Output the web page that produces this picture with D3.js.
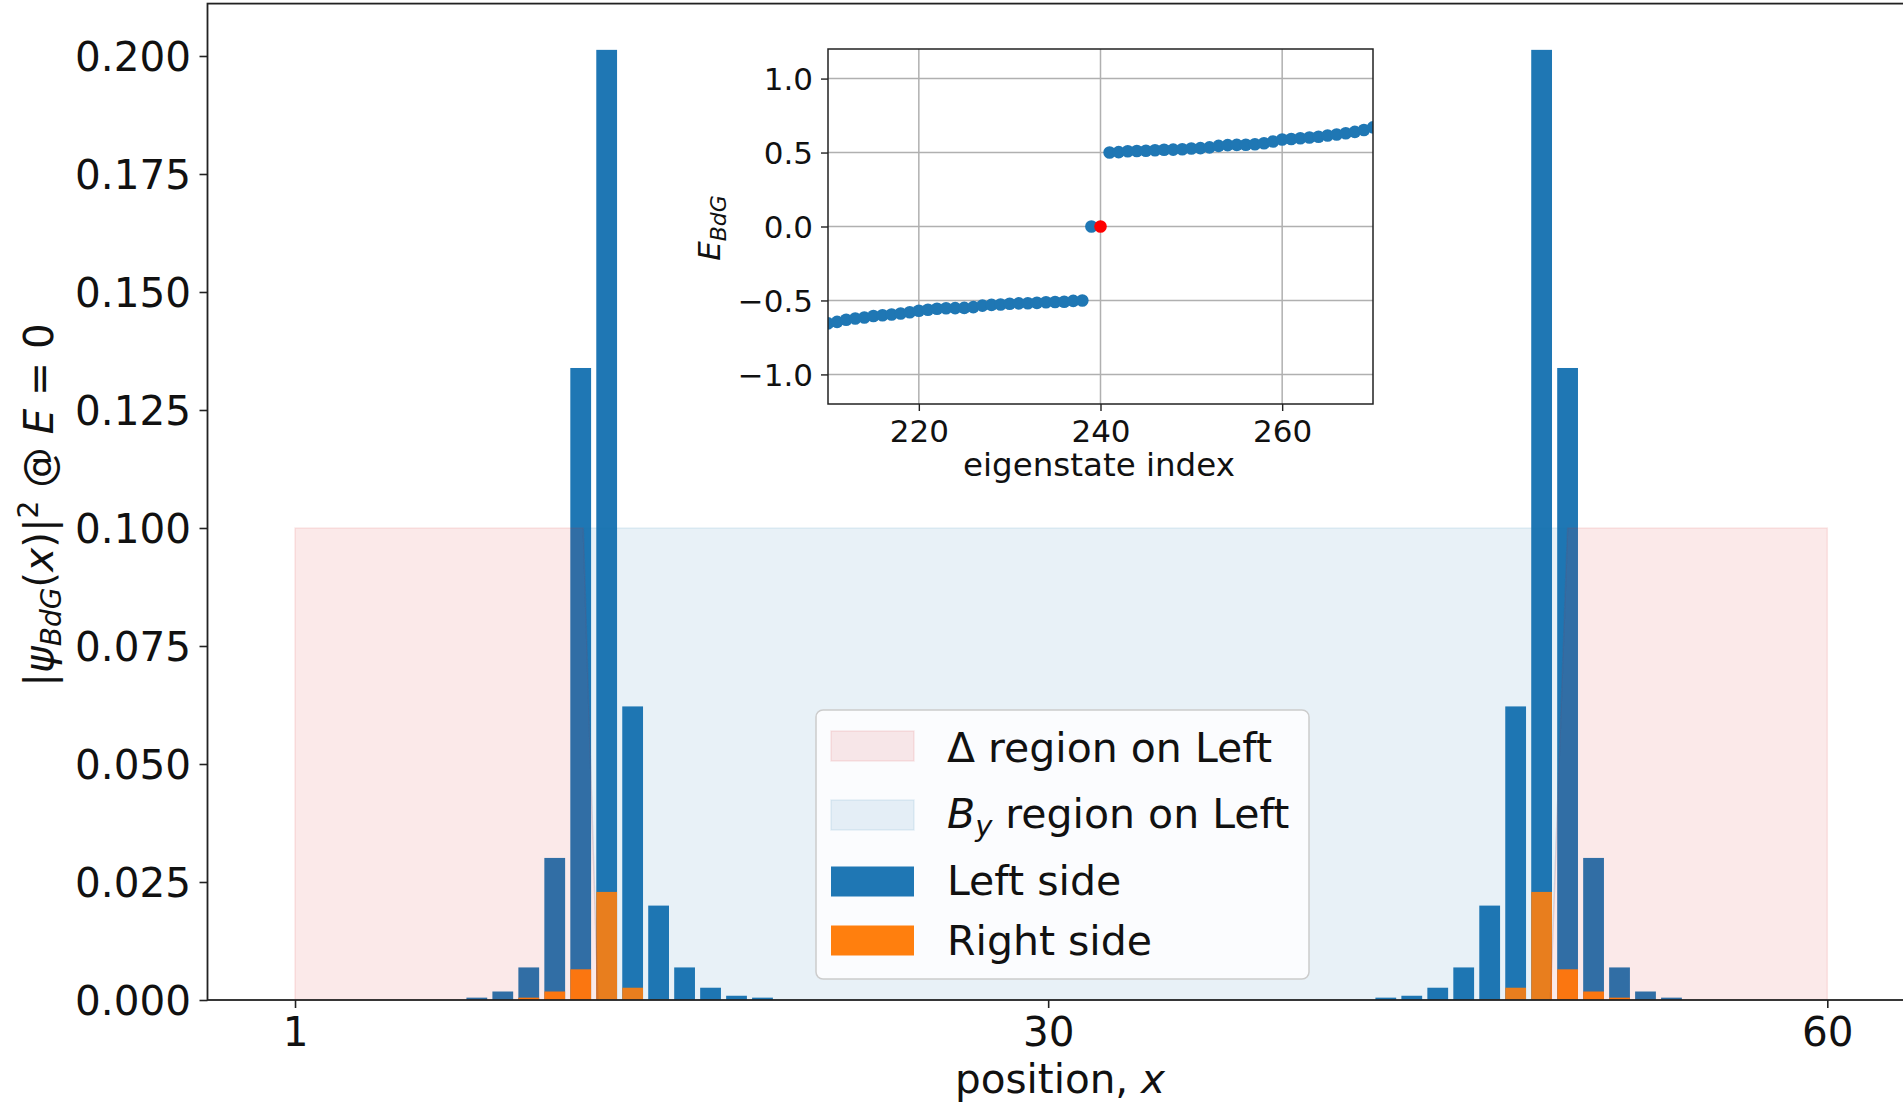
<!DOCTYPE html>
<html>
<head>
<meta charset="utf-8">
<script src="https://cdn.jsdelivr.net/npm/d3@7"></script>
<style>
  body { margin: 0; background: #fff; }
  svg { display: block; font-family: "DejaVu Sans", sans-serif; }
</style>
</head>
<body>
<script>
// main chart data: |psi|^2 of the E=0 BdG state on each site
var sites     = [8, 9, 10, 11, 12, 13, 14, 15, 16, 17, 18, 19,
                 43, 44, 45, 46, 47, 48, 49, 50, 51, 52, 53, 54];
var leftSide  = [0.0005, 0.0018, 0.0069, 0.0301, 0.1339, 0.2013, 0.0622, 0.0200, 0.0069, 0.0026, 0.0009, 0.0005,
                 0.0005, 0.0009, 0.0026, 0.0069, 0.0200, 0.0622, 0.2013, 0.1339, 0.0301, 0.0069, 0.0018, 0.0005];
var rightSide = [0, 0, 0.0005, 0.0018, 0.0065, 0.0229, 0.0026, 0.0001, 0, 0, 0, 0,
                 0, 0, 0, 0, 0.0001, 0.0026, 0.0229, 0.0065, 0.0018, 0.0005, 0, 0];

// shaded regions (x, height) outlines
var deltaRegions = [
  [[1, 0], [1, 0.1], [12.1, 0.1], [12.66, 0]],
  [[49.34, 0], [50.0, 0.1], [60, 0.1], [60, 0]]
];
var byRegion = [[12.66, 0], [12.1, 0.1], [50.0, 0.1], [49.34, 0]];

var yTicks = [0, 0.025, 0.05, 0.075, 0.1, 0.125, 0.15, 0.175, 0.2];
var xTicks = [1, 30, 60];

// inset data: BdG eigenvalues around the gap
var lowIndex  = d3.range(210, 239);
var lowE      = [-0.655, -0.645, -0.630, -0.622, -0.615, -0.605, -0.600, -0.595, -0.588, -0.580,
                 -0.570, -0.563, -0.556, -0.553, -0.552, -0.550, -0.545, -0.535, -0.530, -0.527,
                 -0.522, -0.520, -0.519, -0.516, -0.512, -0.510, -0.509, -0.503, -0.500];
var highIndex = d3.range(241, 271);
var highE     = [0.500, 0.503, 0.509, 0.510, 0.512, 0.516, 0.519, 0.520, 0.522, 0.527,
                 0.530, 0.535, 0.545, 0.550, 0.552, 0.553, 0.556, 0.563, 0.575, 0.588,
                 0.592, 0.597, 0.602, 0.607, 0.615, 0.622, 0.630, 0.640, 0.652, 0.670];
var zeroIndex = [239, 240];
var zeroE     = [0, 0];
var insetXTicks = [220, 240, 260];
var insetYTicks = [-1, -0.5, 0, 0.5, 1];

var W = 1903, H = 1102;
var blue = "#1f77b4", orange = "#ff7f0e", red = "#d62728";

var svg = d3.select("body").append("svg")
    .attr("width", W)
    .attr("height", H);

// main axes box
var ax = {left: 207.5, right: 1913, top: 3.6, bottom: 1000};

var x = d3.scaleLinear().domain([-2.37, 63.3]).range([ax.left, ax.right]);
var y = d3.scaleLinear().domain([0, 0.2111]).range([ax.bottom, ax.top]);

var barW = x(0.8) - x(0);

var bars = sites.map(function (s, i) {
  return {x: s, left: leftSide[i], right: rightSide[i]};
});

svg.selectAll("rect.left").data(bars).enter().append("rect")
    .attr("class", "left")
    .attr("x", function (d) { return x(d.x) - barW / 2; })
    .attr("y", function (d) { return y(d.left); })
    .attr("width", barW)
    .attr("height", function (d) { return y(0) - y(d.left); })
    .style("fill", blue);

svg.selectAll("rect.right").data(bars).enter().append("rect")
    .attr("class", "right")
    .attr("x", function (d) { return x(d.x) - barW / 2; })
    .attr("y", function (d) { return y(d.right); })
    .attr("width", barW)
    .attr("height", function (d) { return y(0) - y(d.right); })
    .style("fill", orange);

var poly = d3.line().x(function (p) { return x(p[0]); }).y(function (p) { return y(p[1]); });

svg.selectAll("path.delta").data(deltaRegions).enter().append("path")
    .attr("class", "delta")
    .attr("d", function (d) { return poly(d) + "Z"; })
    .style("fill", red).style("fill-opacity", 0.1)
    .style("stroke", red).style("stroke-opacity", 0.1).style("stroke-width", 1.5);

svg.append("path")
    .attr("d", poly(byRegion) + "Z")
    .style("fill", blue).style("fill-opacity", 0.1)
    .style("stroke", blue).style("stroke-opacity", 0.1).style("stroke-width", 1.5);

// axes
var yAxis = svg.append("g")
    .attr("transform", "translate(" + ax.left + ",0)")
    .call(d3.axisLeft(y).tickValues(yTicks).tickFormat(d3.format(".3f")).tickSize(8).tickPadding(8.5));
yAxis.selectAll("text").style("font-size", "40.5px").attr("dy", "0.36em");

var xAxis = svg.append("g")
    .attr("transform", "translate(0," + ax.bottom + ")")
    .call(d3.axisBottom(x).tickValues(xTicks).tickSize(8).tickPadding(9));
xAxis.selectAll("text").style("font-size", "40.5px");

svg.selectAll(".domain").remove();
svg.selectAll(".tick line").style("stroke", "#222").style("stroke-width", 1.6);
svg.selectAll(".tick text").style("fill", "#111").style("font-family", "DejaVu Sans");

svg.append("rect")
    .attr("x", ax.left).attr("y", ax.top)
    .attr("width", ax.right - ax.left).attr("height", ax.bottom - ax.top)
    .style("fill", "none").style("stroke", "#222").style("stroke-width", 1.8);

// axis labels
svg.append("text")
    .attr("x", 1060).attr("y", 1093)
    .attr("text-anchor", "middle")
    .style("font-size", "40.5px").style("fill", "#111")
    .html('position, <tspan font-style="italic">x</tspan>');

var ylab = svg.append("text")
    .attr("transform", "translate(53,505) rotate(-90)")
    .attr("text-anchor", "middle")
    .style("font-size", "40.5px").style("fill", "#111");
ylab.append("tspan").text("|");
ylab.append("tspan").attr("font-style", "italic").text("ψ");
ylab.append("tspan").attr("font-style", "italic").attr("font-size", "28px").attr("dy", 8).text("BdG");
ylab.append("tspan").attr("dy", -8).text("(");
ylab.append("tspan").attr("font-style", "italic").text("x");
ylab.append("tspan").text(")|");
ylab.append("tspan").attr("font-size", "28px").attr("dy", -15).text("2");
ylab.append("tspan").attr("dy", 15).text(" @ ");
ylab.append("tspan").attr("font-style", "italic").text("E");
ylab.append("tspan").text(" = 0");

// legend
var lg = svg.append("g");
lg.append("rect")
    .attr("x", 816).attr("y", 710).attr("width", 493).attr("height", 269)
    .attr("rx", 7)
    .style("fill", "#fff").style("fill-opacity", 0.8)
    .style("stroke", "#cccccc").style("stroke-width", 1.5);

var legendItems = [
  {color: red, op: 0.1, cy: 746, base: 761.7},
  {color: blue, op: 0.1, cy: 815, base: 827.7},
  {color: blue, op: 1, cy: 881.5, base: 895},
  {color: orange, op: 1, cy: 940.5, base: 955}
];
legendItems.forEach(function (d) {
  lg.append("rect")
      .attr("x", 831).attr("y", d.cy - 15).attr("width", 83).attr("height", 30)
      .style("fill", d.color).style("fill-opacity", d.op)
      .style("stroke", d.color).style("stroke-opacity", d.op).style("stroke-width", d.op < 1 ? 1.5 : 0);
});
var lt = lg.append("g").style("font-size", "41px").style("fill", "#111");
lt.append("text").attr("x", 947).attr("y", 761.7).text("Δ region on Left");
lt.append("text").attr("x", 947).attr("y", 827.7)
    .html('<tspan font-style="italic">B</tspan><tspan font-style="italic" font-size="29px" dy="8">y</tspan><tspan dy="-8"> region on Left</tspan>');
lt.append("text").attr("x", 947).attr("y", 895).text("Left side");
lt.append("text").attr("x", 947).attr("y", 955).text("Right side");

// inset
var ia = {left: 828, right: 1373, top: 49, bottom: 404};
var ix = d3.scaleLinear().domain([210, 270]).range([ia.left, ia.right]);
var iy = d3.scaleLinear().domain([-1.2, 1.2]).range([ia.bottom, ia.top]);

var inset = svg.append("g");
inset.append("rect")
    .attr("x", ia.left).attr("y", ia.top)
    .attr("width", ia.right - ia.left).attr("height", ia.bottom - ia.top)
    .style("fill", "#fff");

inset.append("clipPath").attr("id", "insetclip")
  .append("rect")
    .attr("x", ia.left).attr("y", ia.top)
    .attr("width", ia.right - ia.left).attr("height", ia.bottom - ia.top);

inset.selectAll("line.gx").data(insetXTicks).enter().append("line")
    .attr("x1", function (d) { return ix(d); }).attr("x2", function (d) { return ix(d); })
    .attr("y1", ia.top).attr("y2", ia.bottom)
    .style("stroke", "#b0b0b0").style("stroke-width", 1.5);
inset.selectAll("line.gy").data(insetYTicks).enter().append("line")
    .attr("y1", function (d) { return iy(d); }).attr("y2", function (d) { return iy(d); })
    .attr("x1", ia.left).attr("x2", ia.right)
    .style("stroke", "#b0b0b0").style("stroke-width", 1.5);

var pts = lowIndex.map(function (n, i) { return {n: n, e: lowE[i], c: blue}; })
  .concat(highIndex.map(function (n, i) { return {n: n, e: highE[i], c: blue}; }))
  .concat(zeroIndex.map(function (n, i) { return {n: n, e: zeroE[i], c: i == 1 ? "#ff0000" : blue}; }));

inset.append("g").attr("clip-path", "url(#insetclip)")
  .selectAll("circle").data(pts).enter().append("circle")
    .attr("cx", function (d) { return ix(d.n); })
    .attr("cy", function (d) { return iy(d.e); })
    .attr("r", 6.3)
    .style("fill", function (d) { return d.c; });

var iyAxis = inset.append("g")
    .attr("transform", "translate(" + ia.left + ",0)")
    .call(d3.axisLeft(iy).tickValues(insetYTicks).tickFormat(d3.format(".1f")).tickSize(7).tickPadding(8));
var ixAxis = inset.append("g")
    .attr("transform", "translate(0," + ia.bottom + ")")
    .call(d3.axisBottom(ix).tickValues(insetXTicks).tickSize(7).tickPadding(9));
inset.selectAll(".domain").remove();
inset.selectAll(".tick line").style("stroke", "#222").style("stroke-width", 1.4);
inset.selectAll(".tick text").style("font-size", "31px").style("fill", "#111").style("font-family", "DejaVu Sans");
iyAxis.selectAll("text").attr("dy", "0.36em");

inset.append("rect")
    .attr("x", ia.left).attr("y", ia.top)
    .attr("width", ia.right - ia.left).attr("height", ia.bottom - ia.top)
    .style("fill", "none").style("stroke", "#222").style("stroke-width", 1.5);

inset.append("text")
    .attr("x", 1099).attr("y", 476)
    .attr("text-anchor", "middle")
    .style("font-size", "32.5px").style("fill", "#111")
    .text("eigenstate index");

inset.append("text")
    .attr("transform", "translate(720,228) rotate(-90)")
    .attr("text-anchor", "middle")
    .style("font-size", "31px").style("fill", "#111")
    .html('<tspan font-style="italic">E</tspan><tspan font-style="italic" font-size="22px" dy="6">BdG</tspan>');
</script>
</body>
</html>
